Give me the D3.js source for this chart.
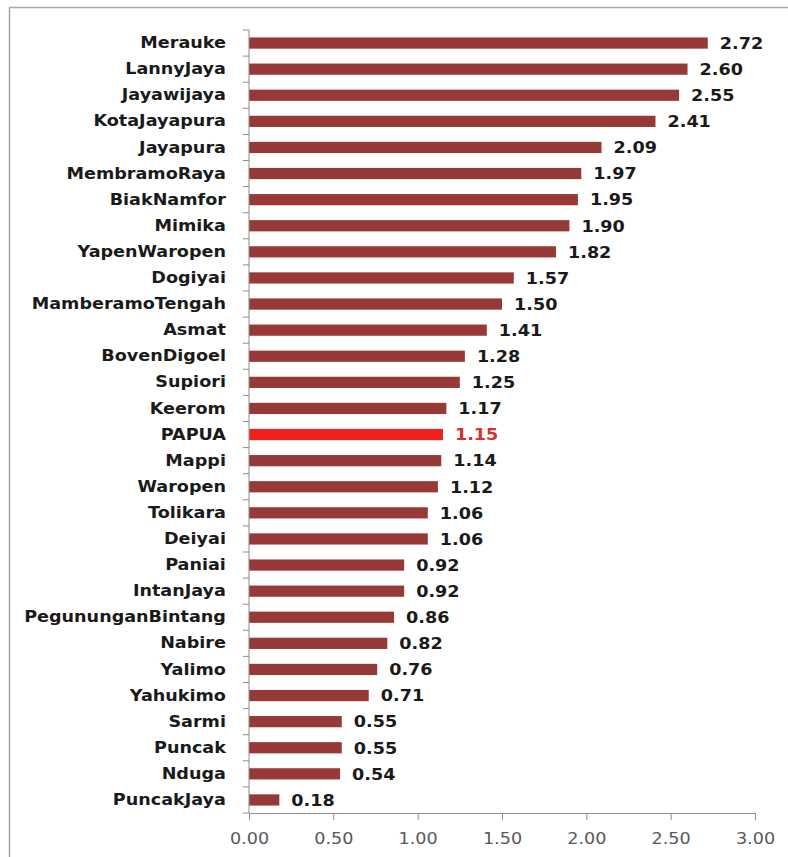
<!DOCTYPE html>
<html>
<head>
<meta charset="utf-8">
<script src="https://cdn.jsdelivr.net/npm/d3@7"></script>
<style>
  body { margin: 0; background: #fff; }
</style>
</head>
<body>
<div id="chart"></div>
<script>
// data (top to bottom)
var regions = ["Merauke", "LannyJaya", "Jayawijaya", "KotaJayapura", "Jayapura",
  "MembramoRaya", "BiakNamfor", "Mimika", "YapenWaropen", "Dogiyai",
  "MamberamoTengah", "Asmat", "BovenDigoel", "Supiori", "Keerom", "PAPUA",
  "Mappi", "Waropen", "Tolikara", "Deiyai", "Paniai", "IntanJaya",
  "PegununganBintang", "Nabire", "Yalimo", "Yahukimo", "Sarmi", "Puncak",
  "Nduga", "PuncakJaya"];
var values = [2.72, 2.60, 2.55, 2.41, 2.09, 1.97, 1.95, 1.90, 1.82, 1.57,
  1.50, 1.41, 1.28, 1.25, 1.17, 1.15, 1.14, 1.12, 1.06, 1.06, 0.92, 0.92,
  0.86, 0.82, 0.76, 0.71, 0.55, 0.55, 0.54, 0.18];
var xTicks = [0, 0.5, 1, 1.5, 2, 2.5, 3];
var highlight = "PAPUA";

var width = 788, height = 857;
var margin = {top: 30, left: 249, right: 33, bottom: 44};
var stretch = 1.1; // the original text is a bit wider than our font

var svg = d3.select("#chart")
  .append("svg")
    .attr("width", width)
    .attr("height", height);

// frame of the original figure
svg.append("rect")
  .attr("x", 9.5).attr("y", 7.5)
  .attr("width", 820).attr("height", 900)
  .attr("fill", "none")
  .attr("stroke", "#a6a6a6")
  .attr("stroke-width", 1.5);

var data = regions.map(function(r, i) { return {name: r, value: values[i]}; });

var x = d3.scaleLinear()
  .domain([0, 3])
  .range([margin.left, 755]);

var y = d3.scaleBand()
  .domain(regions)
  .range([margin.top, 813])
  .paddingInner(0.57)
  .paddingOuter(0.285);

// bars
svg.selectAll("rect.bar")
  .data(data)
  .enter()
  .append("rect")
    .attr("class", "bar")
    .attr("x", x(0))
    .attr("y", function(d) { return y(d.name); })
    .attr("width", function(d) { return x(d.value) - x(0); })
    .attr("height", y.bandwidth())
    .attr("fill", function(d) { return d.name == highlight ? "#f0201c" : "#973a37"; });

// value labels
svg.selectAll("text.val")
  .data(data)
  .enter()
  .append("text")
    .attr("class", "val")
    .attr("transform", function(d) {
      return "translate(" + (x(d.value) + 12) + "," + (y(d.name) + y.bandwidth() / 2) + ") scale(" + stretch + ",1)";
    })
    .attr("dy", "0.36em")
    .attr("font-family", "'DejaVu Sans', sans-serif")
    .attr("font-weight", "bold")
    .attr("font-size", "16px")
    .attr("fill", function(d) { return d.name == highlight ? "#d9302c" : "#1a1a1a"; })
    .text(function(d) { return d.value.toFixed(2); });

// y axis
var yAxis = svg.append("g")
  .attr("transform", "translate(" + x(0) + ",0)")
  .call(d3.axisLeft(y).tickSize(0).tickPadding(21));
yAxis.select(".domain")
  .attr("stroke", "#8c8c8c")
  .attr("d", "M0," + y.range()[0] + "V" + y.range()[1]);
yAxis.selectAll("text")
  .attr("transform", "scale(" + stretch + ",1)")
  .attr("font-family", "'DejaVu Sans', sans-serif")
  .attr("font-weight", "bold")
  .attr("font-size", "16px")
  .attr("fill", "#1a1a1a");

// category boundary ticks
var step = y.step();
var bounds = d3.range(regions.length + 1).map(function(i) { return y.range()[0] + i * step; });
svg.selectAll("line.ytick")
  .data(bounds)
  .enter()
  .append("line")
    .attr("class", "ytick")
    .attr("x1", x(0) - 6).attr("x2", x(0))
    .attr("y1", function(d) { return d; })
    .attr("y2", function(d) { return d; })
    .attr("stroke", "#8c8c8c");

// x axis
var xAxis = svg.append("g")
  .attr("transform", "translate(0,813)")
  .call(d3.axisBottom(x).tickValues(xTicks).tickSize(7).tickSizeOuter(0).tickPadding(13)
    .tickFormat(d3.format(".2f")));
xAxis.select(".domain").attr("stroke", "#8c8c8c");
xAxis.selectAll("line").attr("stroke", "#8c8c8c");
xAxis.selectAll("text")
  .attr("transform", "scale(" + stretch + ",1)")
  .attr("font-family", "'DejaVu Sans', sans-serif")
  .attr("font-size", "16px")
  .attr("fill", "#595959");
</script>
</body>
</html>
